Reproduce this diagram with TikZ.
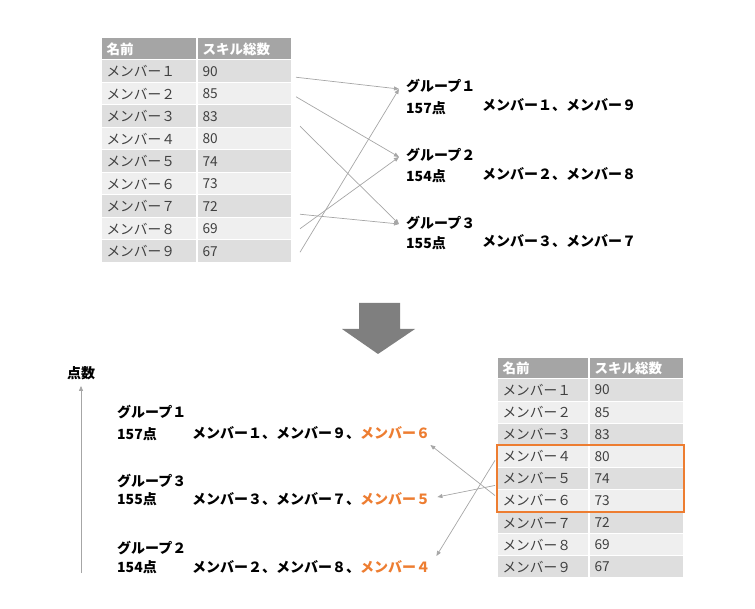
\documentclass[tikz,border=0pt]{standalone}
\usepackage{fontspec}
\setmainfont{Noto Sans CJK JP}
\usetikzlibrary{arrows.meta,calc,positioning}
\definecolor{HeadGray}{HTML}{A5A5A5}
\definecolor{RowDark}{HTML}{DEDEDE}
\definecolor{RowLight}{HTML}{EFEFEF}
\definecolor{CellText}{HTML}{404040}
\definecolor{LinkGray}{HTML}{A6A6A6}
\definecolor{ArrowGray}{HTML}{7F7F7F}
\definecolor{PickOrange}{HTML}{ED7D31}

\begin{document}
\begin{tikzpicture}[x=1pt,y=-1pt]
  \tikzset{CellStyle/.style = {shape = rectangle, draw = white, line width = 1pt, anchor = west, align = left, inner xsep = 5pt, inner ysep = 0pt, text = CellText, font = \fontsize{13.7}{16}\selectfont}};
  \tikzset{HeadStyle/.style = {CellStyle, fill = HeadGray, text = white, font = \fontsize{13.5}{16}\selectfont\bfseries}};
  \tikzset{GroupStyle/.style = {anchor = west, inner sep = 0pt, font = \fontsize{14}{16}\selectfont\bfseries}};
  \tikzset{LinkStyle/.style = {-{Triangle[length=5pt,width=4pt]}, LinkGray, line width = 0.7pt}};

  \useasboundingbox (0,0) rectangle (755,609);

  % top table
  \node[HeadStyle, text width = 85pt, minimum height = 22pt] (top head name) at (101,49) {名前};
  \node[HeadStyle, text width = 84pt, minimum height = 22pt, right = 0pt of top head name] (top head score) {スキル総数};
  \foreach \i/\w/\s/\f in {1/１/90/RowDark, 2/２/85/RowLight, 3/３/83/RowDark, 4/４/80/RowLight, 5/５/74/RowDark, 6/６/73/RowLight, 7/７/72/RowDark, 8/８/69/RowLight, 9/９/67/RowDark} {
    \node[CellStyle, fill = \f, text width = 85pt, minimum height = 22.5pt] (top name \i) at (101,{48.75+22.5*\i}) {メンバー\w};
    \node[CellStyle, fill = \f, text width = 84pt, minimum height = 22.5pt, right = 0pt of top name \i] (top score \i) {\s};
  }

  % groups before
  \node[GroupStyle] (top group 1) at (406,86) {グループ１};
  \node[GroupStyle] (top points 1) at (406,108) {157点};
  \node[GroupStyle] (top members 1) at (482,105) {メンバー１、メンバー９};
  \node[GroupStyle] (top group 2) at (406,155) {グループ２};
  \node[GroupStyle] (top points 2) at (406,176) {154点};
  \node[GroupStyle] (top members 2) at (482,174) {メンバー２、メンバー８};
  \node[GroupStyle] (top group 3) at (406,223) {グループ３};
  \node[GroupStyle] (top points 3) at (406,243) {155点};
  \node[GroupStyle] (top members 3) at (482,241) {メンバー３、メンバー７};

  \draw[LinkStyle] ([shift={(4,6)}]top score 1.east) to ([shift={(-7,3)}]top group 1.west);
  \draw[LinkStyle] ([shift={(4,3)}]top score 2.east) to ([shift={(-7,2)}]top group 2.west);
  \draw[LinkStyle] ([shift={(8,10)}]top score 3.east) to ([shift={(-7,1)}]top group 3.west);
  \draw[LinkStyle] ([shift={(8,8)}]top score 7.east) to ([shift={(-7,1)}]top group 3.west);
  \draw[LinkStyle] ([shift={(8,0)}]top score 8.east) to ([shift={(-7,2)}]top group 2.west);
  \draw[LinkStyle] ([shift={(8,1)}]top score 9.east) to ([shift={(-7,3)}]top group 1.west);

  % big arrow
  \fill[ArrowGray] (359,303) -- (400,303) -- (400,329) -- (415,329) -- (378,354) -- (342,329) -- (359,329) -- cycle;

  % axis
  \node[GroupStyle, anchor = center] (axis label) at (81,373) {点数};
  \coordinate (axis foot) at (81,573);
  \draw[LinkStyle, shorten >= 6pt] (axis foot) to (axis label.south);

  % groups after
  \node[GroupStyle] (low group 1) at (117,412) {グループ１};
  \node[GroupStyle] (low points 1) at (117,434) {157点};
  \node[GroupStyle] (low members 1) at (192,433) {メンバー１、メンバー９、\textcolor{PickOrange}{メンバー６}};
  \node[GroupStyle] (low group 3) at (117,481) {グループ３};
  \node[GroupStyle] (low points 3) at (117,499) {155点};
  \node[GroupStyle] (low members 3) at (192,499) {メンバー３、メンバー７、\textcolor{PickOrange}{メンバー５}};
  \node[GroupStyle] (low group 2) at (117,548) {グループ２};
  \node[GroupStyle] (low points 2) at (117,567) {154点};
  \node[GroupStyle] (low members 2) at (192,567) {メンバー２、メンバー８、\textcolor{PickOrange}{メンバー４}};

  % bottom table
  \node[HeadStyle, text width = 81pt, minimum height = 21pt] (low head name) at (497,368.5) {名前};
  \node[HeadStyle, text width = 84pt, minimum height = 21pt, right = 0pt of low head name] (low head score) {スキル総数};
  \foreach \i/\w/\s/\f in {1/１/90/RowDark, 2/２/85/RowLight, 3/３/83/RowDark, 4/４/80/RowLight, 5/５/74/RowDark, 6/６/73/RowLight, 7/７/72/RowDark, 8/８/69/RowLight, 9/９/67/RowDark} {
    \node[CellStyle, fill = \f, text width = 81pt, minimum height = 22.1pt] (low name \i) at (497,{367.95+22.1*\i}) {メンバー\w};
    \node[CellStyle, fill = \f, text width = 84pt, minimum height = 22.1pt, right = 0pt of low name \i] (low score \i) {\s};
  }
  \draw[PickOrange, line width = 1.5pt] (low name 4.north west) rectangle (low score 6.south east);

  \draw[LinkStyle] ([shift={(-2,-5)}]low name 6.west) to ([shift={(0,12)}]low members 1.east);
  \draw[LinkStyle] ([shift={(-2,7)}]low name 5.west) to ([shift={(7,-2)}]low members 3.east);
  \draw[LinkStyle] ([shift={(-2,4)}]low name 4.west) to ([shift={(6,-11)}]low members 2.east);
\end{tikzpicture}
\end{document}
